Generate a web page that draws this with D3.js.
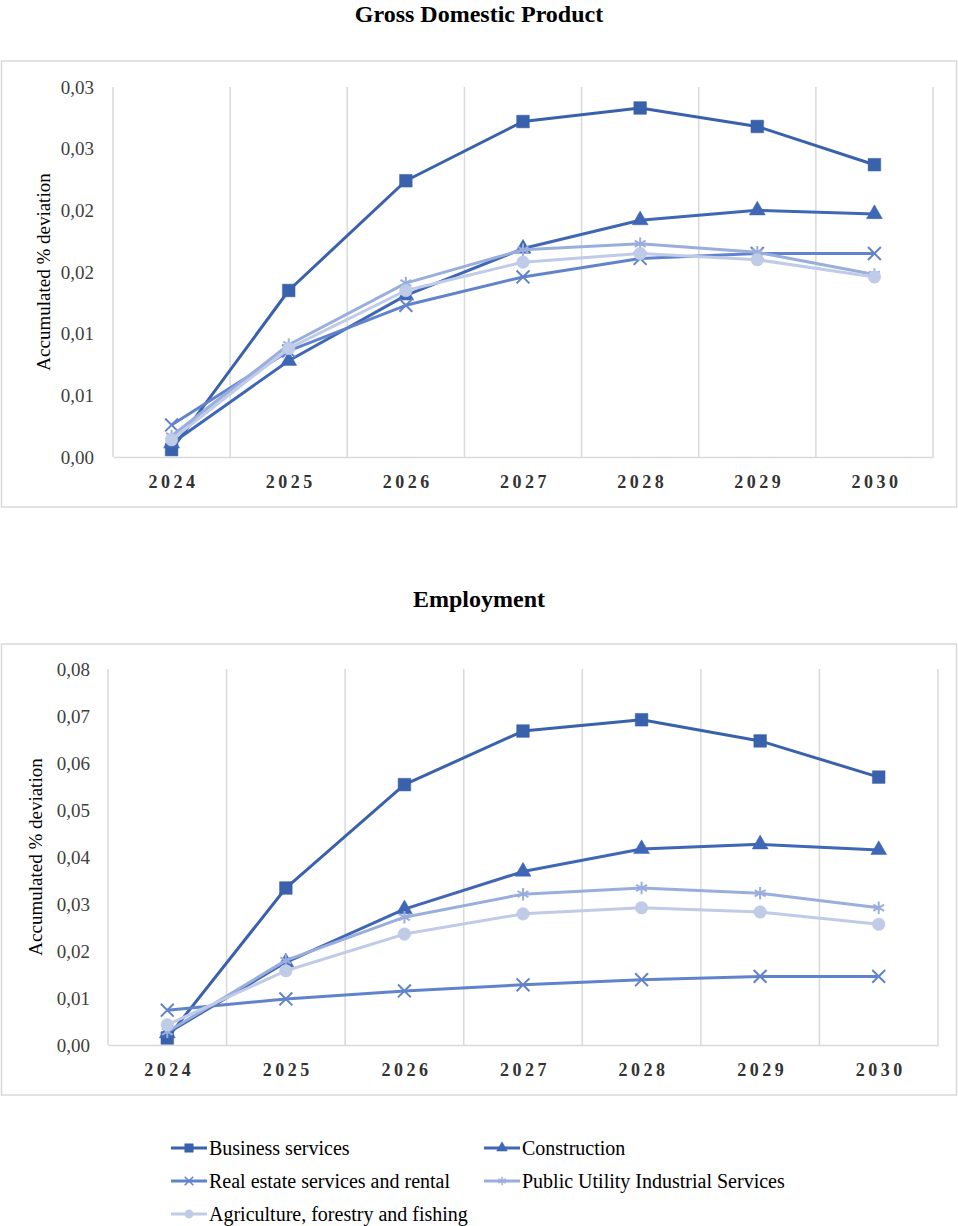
<!DOCTYPE html>
<html>
<head>
<meta charset="utf-8">
<script src="https://cdn.jsdelivr.net/npm/d3@7"></script>
<style>
  body { margin: 0; background: #fff; }
  svg { display: block; }
</style>
</head>
<body>
<script>
// two line charts (GDP, Employment) sharing one legend

const years = ["2024", "2025", "2026", "2027", "2028", "2029", "2030"];
const sectors = ["Business services", "Construction", "Real estate services and rental",
                 "Public Utility Industrial Services", "Agriculture, forestry and fishing"];

// GDP values, one array per sector
const gdpBusiness     = [0.0006, 0.0135, 0.0224, 0.0272, 0.0283, 0.0268, 0.0237];
const gdpConstruction = [0.0011, 0.0078, 0.0131, 0.0169, 0.0192, 0.0200, 0.0197];
const gdpRealEstate   = [0.0026, 0.0086, 0.0123, 0.0146, 0.0161, 0.0165, 0.0165];
const gdpUtility      = [0.0017, 0.0091, 0.0141, 0.0168, 0.0173, 0.0166, 0.0148];
const gdpAgriculture  = [0.0014, 0.0088, 0.0135, 0.0158, 0.0165, 0.0160, 0.0146];

// Employment values
const empBusiness     = [0.0015, 0.0334, 0.0554, 0.0668, 0.0692, 0.0647, 0.0570];
const empConstruction = [0.0025, 0.0176, 0.0289, 0.0369, 0.0417, 0.0427, 0.0415];
const empRealEstate   = [0.0074, 0.0098, 0.0115, 0.0128, 0.0139, 0.0146, 0.0146];
const empUtility      = [0.0028, 0.0180, 0.0272, 0.0321, 0.0334, 0.0323, 0.0292];
const empAgriculture  = [0.0043, 0.0158, 0.0236, 0.0279, 0.0292, 0.0283, 0.0257];

// ticks and their labels (labels as printed, rounded to 2 decimals)
const gdpTicks = [0, 0.005, 0.01, 0.015, 0.02, 0.025, 0.03];
const gdpTickLabels = ["0,00", "0,01", "0,01", "0,02", "0,02", "0,03", "0,03"];
const empTicks = [0, 0.01, 0.02, 0.03, 0.04, 0.05, 0.06, 0.07, 0.08];
const empTickLabels = ["0,00", "0,01", "0,02", "0,03", "0,04", "0,05", "0,06", "0,07", "0,08"];

const colors = ["#3a61ab", "#3f67b5", "#6183cc", "#9aaedd", "#bfcbe7"];
const symbols = [d3.symbolSquare, d3.symbolTriangle, d3.symbolX, d3.symbolAsterisk, d3.symbolCircle];
const symbolSizes = [160, 110, 110, 110, 125];
const filled = [true, true, false, false, true];

const width = 958, height = 1226;
const serif = '"Liberation Serif", "Times New Roman", serif';

const svg = d3.select('body')
  .append('svg')
  .attr('width', width)
  .attr('height', height);

function drawChart(cfg) {
  // frame
  svg.append('rect')
    .attr('x', 1.5).attr('y', cfg.boxTop)
    .attr('width', 955).attr('height', cfg.boxBottom - cfg.boxTop)
    .attr('fill', 'none').attr('stroke', '#d9d9d9').attr('stroke-width', 1.5);

  svg.append('text')
    .attr('x', 479).attr('y', cfg.titleY)
    .attr('text-anchor', 'middle')
    .attr('font-family', serif).attr('font-weight', 'bold').attr('font-size', 24)
    .attr('fill', '#000')
    .text(cfg.title);

  const xScale = d3.scaleBand()
    .domain(years)
    .range([cfg.left, cfg.right]);

  const yScale = d3.scaleLinear()
    .domain([0, d3.max(cfg.ticks)])
    .range([cfg.bottom, cfg.top]);

  // vertical gridlines at band edges
  const edges = years.map(d => xScale(d)).concat([cfg.right]);
  svg.append('g')
    .selectAll('line')
    .data(edges)
    .join('line')
    .attr('x1', d => d).attr('x2', d => d)
    .attr('y1', cfg.top).attr('y2', cfg.bottom)
    .attr('stroke', '#d9d9d9').attr('stroke-width', 1.5);

  // x axis
  const xAxis = d3.axisBottom(xScale).tickSize(0).tickPadding(18);
  const gx = svg.append('g')
    .attr('transform', `translate(0,${cfg.bottom})`)
    .call(xAxis);
  gx.select('.domain').attr('stroke', '#d9d9d9').attr('stroke-width', 1.5);
  gx.selectAll('text')
    .attr('font-family', serif).attr('font-size', 18).attr('font-weight', 'bold')
    .attr('letter-spacing', '3.5px').attr('dx', '2px')
    .attr('fill', '#333');

  // y axis
  const yAxis = d3.axisLeft(yScale)
    .tickValues(cfg.ticks)
    .tickFormat((d, i) => cfg.tickLabels[i])
    .tickSize(0)
    .tickPadding(cfg.left - cfg.labelRight);
  const gy = svg.append('g')
    .attr('transform', `translate(${cfg.left},0)`)
    .call(yAxis);
  gy.select('.domain').remove();
  gy.selectAll('text')
    .attr('font-family', serif).attr('font-size', 19)
    .attr('fill', '#404040');

  svg.append('text')
    .attr('transform', `translate(${cfg.yTitleX},${(cfg.top + cfg.bottom) / 2}) rotate(-90)`)
    .attr('text-anchor', 'middle')
    .attr('font-family', serif).attr('font-size', 19)
    .attr('fill', '#000')
    .text('Accumulated % deviation');

  const line = d3.line()
    .x((d, i) => xScale(years[i]) + xScale.bandwidth() / 2)
    .y(d => yScale(d));

  cfg.series.forEach((vals, s) => {
    const g = svg.append('g');
    g.append('path')
      .datum(vals)
      .attr('d', line)
      .attr('fill', 'none')
      .attr('stroke', colors[s])
      .attr('stroke-width', 3)
      .attr('stroke-linejoin', 'round');
    g.selectAll('path.mark')
      .data(vals)
      .join('path')
      .attr('class', 'mark')
      .attr('transform', (d, i) => `translate(${xScale(years[i]) + xScale.bandwidth() / 2},${yScale(d)})`)
      .attr('d', d3.symbol(symbols[s], symbolSizes[s]))
      .attr('fill', filled[s] ? colors[s] : 'none')
      .attr('stroke', colors[s])
      .attr('stroke-width', filled[s] ? 0.5 : 2);
  });
}

drawChart({
  title: 'Gross Domestic Product', titleY: 22,
  boxTop: 61, boxBottom: 507,
  left: 113, right: 933, top: 87, bottom: 457,
  labelRight: 94, yTitleX: 50,
  ticks: gdpTicks, tickLabels: gdpTickLabels,
  series: [gdpBusiness, gdpConstruction, gdpRealEstate, gdpUtility, gdpAgriculture]
});

drawChart({
  title: 'Employment', titleY: 607,
  boxTop: 644, boxBottom: 1095,
  left: 108, right: 938, top: 669, bottom: 1045,
  labelRight: 90, yTitleX: 42,
  ticks: empTicks, tickLabels: empTickLabels,
  series: [empBusiness, empConstruction, empRealEstate, empUtility, empAgriculture]
});

// legend
const legendPos = [[171, 1148], [484, 1148], [171, 1181], [484, 1181], [171, 1214]];
const legend = svg.append('g')
  .selectAll('g')
  .data(sectors)
  .join('g')
  .attr('transform', (d, i) => `translate(${legendPos[i][0]},${legendPos[i][1]})`);

legend.append('line')
  .attr('x1', 0).attr('x2', 36)
  .attr('stroke', (d, i) => colors[i]).attr('stroke-width', 3);

legend.append('path')
  .attr('transform', 'translate(18,0)')
  .attr('d', (d, i) => d3.symbol(symbols[i], symbolSizes[i] * 0.45)())
  .attr('fill', (d, i) => filled[i] ? colors[i] : 'none')
  .attr('stroke', (d, i) => colors[i])
  .attr('stroke-width', (d, i) => filled[i] ? 0.5 : 1.5);

legend.append('text')
  .attr('x', 38).attr('y', 7)
  .attr('font-family', serif).attr('font-size', 20)
  .attr('fill', '#000')
  .text(d => d);
</script>
</body>
</html>
